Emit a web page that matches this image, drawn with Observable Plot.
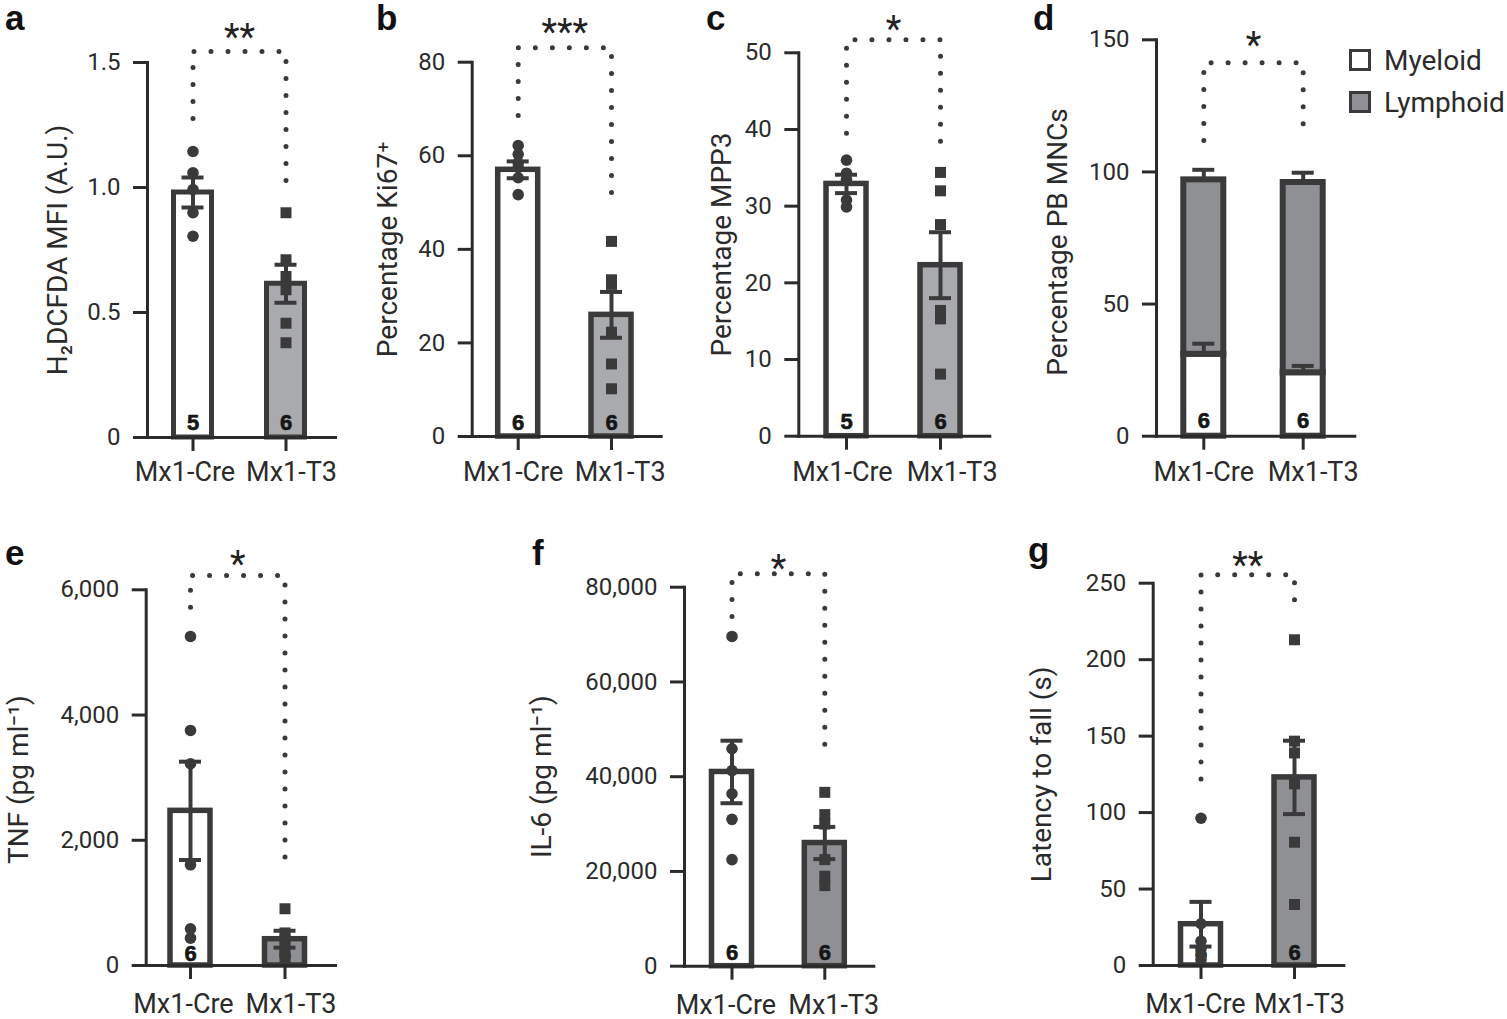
<!DOCTYPE html>
<html><head><meta charset="utf-8">
<script src="https://cdn.jsdelivr.net/npm/d3@7"></script>
<script src="https://cdn.jsdelivr.net/npm/@observablehq/plot@0.6"></script>
<style>
html,body{margin:0;padding:0;background:#fff;}
body{width:1507px;height:1019px;position:relative;overflow:hidden;font-family:Roboto,"Liberation Sans",sans-serif;}
.panel{position:absolute;}
.panel svg{overflow:visible;}
.letter{position:absolute;font-family:"Liberation Sans",Arial,sans-serif;font-weight:700;font-size:35px;line-height:35px;color:#111;}
.legend{position:absolute;left:1349px;top:39px;font-size:28px;color:#2b2b2b;font-family:Roboto,sans-serif;font-weight:400;}
.legend .item{display:flex;align-items:center;height:42px;}
.legend .sw{width:16px;height:16px;border:3px solid #3a3a3a;margin-right:13px;}
</style></head><body>
<script>
// ---------- DATA ----------
const groups = ["Mx1-Cre", "Mx1-T3"];

// a: H2DCFDA MFI (A.U.)
const aCre = [1.144, 1.059, 0.992, 0.899, 0.805];
const aT3 = [0.899, 0.711, 0.644, 0.591, 0.457, 0.379];
const aMean = [0.98, 0.615];
const aSem = [0.06, 0.076];
const aN = [5, 6];
const aTicks = [0, 0.5, 1.0, 1.5];
const aBracket = [1.276, 1.544, 0.976];

// b: Percentage Ki67+
const bCre = [62.2, 60.3, 58.5, 57.5, 55.3, 51.7];
const bT3 = [41.7, 33.5, 32.5, 22.3, 15.5, 10.2];
const bMean = [57.0, 26.0];
const bSem = [1.8, 4.9];
const bN = [6, 6];
const bTicks = [0, 20, 40, 60, 80];
const bBracket = [68.6, 83.1, 48.9];

// c: Percentage MPP3
const cCre = [36.0, 34.3, 33.5, 30.8, 29.9];
const cT3 = [34.4, 32.0, 27.6, 16.4, 15.3, 8.1];
const cMean = [32.9, 22.3];
const cSem = [1.2, 4.3];
const cN = [5, 6];
const cTicks = [0, 10, 20, 30, 40, 50];
const cBracket = [39.5, 51.7, 37.9];

// d: Percentage PB MNCs (stacked)
const dTypes = ["Myeloid", "Lymphoid"];
const dMyeloid = [31, 24];
const dMyeloidSem = [4.0, 2.6];
const dLymphoid = [66, 72];
const dTotalSem = [3.8, 3.7];
const dN = [6, 6];
const dTicks = [0, 50, 100, 150];
const dBracket = [111.9, 141.3, 113.4];

// e: TNF (pg ml-1)
const eCre = [5255, 3754, 3222, 1608, 586, 436];
const eT3 = [906, 520, 420, 330, 200, 90];
const eMean = [2470, 420];
const eSem = [785, 135];
const eN = [6, 6];
const eTicks = [0, 2000, 4000, 6000];
const eBracket = [5720, 6230, 1720];

// f: IL-6 (pg ml-1)
const fCre = [69600, 45900, 41300, 36400, 31000, 22500];
const fT3 = [36700, 32000, 30000, 22500, 19000, 17000];
const fMean = [41000, 26000];
const fSem = [6600, 3400];
const fN = [6, 6];
const fTicks = [0, 20000, 40000, 60000, 80000];
const fBracket = [73820, 82830, 43270];

// g: Latency to fall (s)
const gCre = [96.3, 27.3, 15.9, 10.9, 6.5, 3.7];
const gT3 = [213, 146.7, 139, 118.8, 80.6, 39.9];
const gMean = [27, 123];
const gSem = [14.6, 24];
const gN = [6, 6];
const gTicks = [0, 50, 100, 150, 200, 250];
const gBracket = [122, 255.6, 230.4];

// ---------- STYLE ----------
const INK = "#3a3a3a";
const AXIS = "#2b2b2b";
const GRAY_LIGHT = "#a8aaad";
const GRAY_DARK = "#8e9093";
const FONT = "Roboto, 'Liberation Sans', sans-serif";

function dec1(d){ return d === 0 ? "0" : d.toFixed(1); }
const comma = d3.format(",");
const plain = d => String(d);

function makePanel(o) {
  const {L, T, W, H, axisX, xRight, y0, yTop, c1, c2, bw} = o.layout;
  const step = c2 - c1;
  const p = 1 - bw / step;
  const ins = (bw - 22) / 2;
  const summary = groups.map((g, i) => ({g, mean: o.mean ? o.mean[i] : null, sem: o.sem ? o.sem[i] : null, n: o.n[i]}));
  const br = [
    {g: groups[0], y: o.bracket[0]}, {g: groups[0], y: o.bracket[1]},
    {g: groups[1], y: o.bracket[1]}, {g: groups[1], y: o.bracket[2]}
  ];
  const marks = [];
  if (o.stacked) {
    const rows = [];
    groups.forEach((g, i) => {
      rows.push({g, type: dTypes[0], v: o.stacked.my[i]});
      rows.push({g, type: dTypes[1], v: o.stacked.ly[i]});
    });
    marks.push(Plot.barY(rows, {x: "g", y: "v", fill: "type", stroke: INK, strokeWidth: o.sw}));
    const errs = groups.map((g, i) => ({g, a: o.stacked.my[i], b: o.stacked.my[i] + o.stacked.mySem[i]}))
      .concat(groups.map((g, i) => ({g, a: o.stacked.my[i] + o.stacked.ly[i], b: o.stacked.my[i] + o.stacked.ly[i] + o.stacked.totSem[i]})));
    marks.push(Plot.ruleX(errs, {x: "g", y1: "a", y2: "b", stroke: INK, strokeWidth: 4}));
    marks.push(Plot.tickY(errs, {x: "g", y: "b", stroke: INK, strokeWidth: 4, insetLeft: ins, insetRight: ins}));
  } else {
    marks.push(Plot.barY(summary, {x: "g", y: "mean", fill: "g", stroke: INK, strokeWidth: o.sw}));
  }
  marks.push(Plot.text(summary, {x: "g", y: () => 0, text: d => String(d.n), dy: o.nDy, fontWeight: 700, fontFamily: "'Liberation Sans', Arial, sans-serif", fontSize: 22, fill: "#151515", stroke: "#151515", strokeWidth: 0.6, lineAnchor: "middle"}));
  if (!o.stacked) {
    marks.push(Plot.ruleX(summary, {x: "g", y1: d => d.mean - d.sem, y2: d => d.mean + d.sem, stroke: INK, strokeWidth: 4}));
    marks.push(Plot.tickY(summary, {x: "g", y: d => d.mean + d.sem, stroke: INK, strokeWidth: 4, insetLeft: ins, insetRight: ins}));
    marks.push(Plot.tickY(summary, {x: "g", y: d => d.mean - d.sem, stroke: INK, strokeWidth: 4, insetLeft: ins, insetRight: ins}));
    marks.push(Plot.dot(o.cre, {x: () => groups[0], y: d => d, r: 5.8, fill: INK, symbol: "circle"}));
    marks.push(Plot.dot(o.t3, {x: () => groups[1], y: d => d, r: 6.2, fill: INK, symbol: "square"}));
  }
  marks.push(Plot.line(br, {x: "g", y: "y", stroke: INK, strokeWidth: 5, strokeDasharray: "0 17", strokeLinecap: "round"}));
  marks.push(Plot.text([o.star], {x: () => groups[0], y: () => o.bracket[1], text: d => d, dx: step / 2, dy: o.starDy, fontSize: 36, fill: "#222", lineAnchor: "middle"}));
  marks.push(Plot.text([o.ylabel], {frameAnchor: "left", rotate: -90, dx: o.labelDx, dy: o.labelDy || 0, text: d => d, fontSize: 28, fill: "#2b2b2b", textAnchor: "middle", lineAnchor: "middle"}));
  marks.push(Plot.axisY({ticks: o.ticks, tickSize: 14, tickPadding: 13, tickFormat: o.fmt, fontSize: 24, strokeWidth: 3, label: null}));
  marks.push(Plot.axisX({tickSize: 14, tickFormat: () => "", strokeWidth: 3, label: null}));
  groups.forEach((g, i) => {
    marks.push(Plot.text([g], {x: d => d, y: () => 0, text: d => d, dx: o.xdx[i], dy: o.xdy, fontSize: 27, fill: "#2b2b2b", lineAnchor: "middle"}));
  });
  marks.push(Plot.frame({anchor: "left", strokeWidth: 3}));
  marks.push(Plot.frame({anchor: "bottom", strokeWidth: 3}));

  const chart = Plot.plot({
    width: W, height: H,
    marginLeft: axisX - L, marginRight: L + W - xRight,
    marginTop: yTop - T, marginBottom: T + H - y0,
    style: {fontFamily: FONT, fontWeight: 400, color: AXIS, background: "transparent", overflow: "visible"},
    x: {type: "band", domain: groups, range: [c1 - step / 2 - L, c2 + step / 2 - L], paddingInner: p, paddingOuter: p / 2, round: false},
    y: {domain: [0, o.ymax]},
    color: o.stacked ? {domain: dTypes, range: ["#ffffff", GRAY_DARK]} : {domain: groups, range: ["#ffffff", o.gray]},
    marks
  });
  const div = document.createElement("div");
  div.className = "panel";
  div.style.left = L + "px";
  div.style.top = T + "px";
  div.appendChild(chart);
  document.body.appendChild(div);
}

function letter(t, x, y) {
  const d = document.createElement("div");
  d.className = "letter";
  d.textContent = t;
  d.style.left = x + "px";
  d.style.top = (y - 30) + "px";
  document.body.appendChild(d);
}

makePanel({layout: {L: 0, T: 0, W: 350, H: 510, axisX: 147, xRight: 335, y0: 437, yTop: 62, c1: 192.5, c2: 285.5, bw: 38},
  cre: aCre, t3: aT3, mean: aMean, sem: aSem, n: aN, ticks: aTicks, fmt: dec1, ymax: 1.5, bracket: aBracket,
  star: "**", starDy: -14, ylabel: "H₂DCFDA MFI (A.U.)", labelDx: -89, nDy: -15, sw: 5, gray: GRAY_LIGHT,
  xdx: [-8, 5.5], xdy: 35});

makePanel({layout: {L: 365, T: 0, W: 310, H: 510, axisX: 471.7, xRight: 660.7, y0: 436, yTop: 61.7, c1: 517.7, c2: 611, bw: 40},
  cre: bCre, t3: bT3, mean: bMean, sem: bSem, n: bN, ticks: bTicks, fmt: plain, ymax: 80, bracket: bBracket,
  star: "***", starDy: -15, ylabel: "Percentage Ki67⁺", labelDx: -84, nDy: -14, sw: 5.5, gray: GRAY_LIGHT,
  xdx: [-5, 8.7], xdy: 36});

makePanel({layout: {L: 690, T: 0, W: 320, H: 510, axisX: 798.3, xRight: 989.3, y0: 435.7, yTop: 52.3, c1: 846, c2: 940, bw: 40},
  cre: cCre, t3: cT3, mean: cMean, sem: cSem, n: cN, ticks: cTicks, fmt: plain, ymax: 50, bracket: cBracket,
  star: "*", starDy: -10, ylabel: "Percentage MPP3", labelDx: -77, nDy: -14, sw: 5.5, gray: GRAY_LIGHT,
  xdx: [-4, 11.7], xdy: 36});

makePanel({layout: {L: 1020, T: 0, W: 340, H: 510, axisX: 1156, xRight: 1354.3, y0: 435.7, yTop: 39.3, c1: 1203.3, c2: 1302.7, bw: 40},
  stacked: {my: dMyeloid, ly: dLymphoid, mySem: dMyeloidSem, totSem: dTotalSem},
  n: dN, ticks: dTicks, fmt: plain, ymax: 150, bracket: dBracket,
  star: "*", starDy: -17, ylabel: "Percentage PB MNCs", labelDx: -98, labelDy: 4, nDy: -15, sw: 6,
  xdx: [0, 10], xdy: 36});

makePanel({layout: {L: 0, T: 520, W: 350, H: 499, axisX: 145.7, xRight: 335, y0: 965, yTop: 589.3, c1: 190, c2: 284.5, bw: 40},
  cre: eCre, t3: eT3, mean: eMean, sem: eSem, n: eN, ticks: eTicks, fmt: comma, ymax: 6000, bracket: eBracket,
  star: "*", starDy: -11, ylabel: "TNF (pg ml⁻¹)", labelDx: -127, labelDy: 2, nDy: -12, sw: 5.5, gray: GRAY_DARK,
  xdx: [-7, 6], xdy: 39});

makePanel({layout: {L: 520, T: 520, W: 360, H: 499, axisX: 684, xRight: 873.3, y0: 965.7, yTop: 586.7, c1: 731.5, c2: 824.3, bw: 40},
  cre: fCre, t3: fT3, mean: fMean, sem: fSem, n: fN, ticks: fTicks, fmt: comma, ymax: 80000, bracket: fBracket,
  star: "*", starDy: -5, ylabel: "IL-6 (pg ml⁻¹)", labelDx: -142, nDy: -13, sw: 5.5, gray: GRAY_DARK,
  xdx: [-6, 9], xdy: 39});

makePanel({layout: {L: 1010, T: 520, W: 350, H: 499, axisX: 1152.7, xRight: 1343.3, y0: 965, yTop: 582.7, c1: 1200.5, c2: 1294, bw: 40},
  cre: gCre, t3: gT3, mean: gMean, sem: gSem, n: gN, ticks: gTicks, fmt: plain, ymax: 250, bracket: gBracket,
  star: "**", starDy: -9, ylabel: "Latency to fall (s)", labelDx: -111, nDy: -13, sw: 5.5, gray: GRAY_DARK,
  xdx: [-5.5, 5], xdy: 39});

letter("a", 5, 30);
letter("b", 376, 30);
letter("c", 706, 30);
letter("d", 1033, 30);
letter("e", 5, 565);
letter("f", 532, 565);
letter("g", 1028, 562);

const lg = document.createElement("div");
lg.className = "legend";
lg.innerHTML = dTypes.map((t, i) => `<div class="item"><div class="sw" style="background:${i ? GRAY_DARK : '#fff'}"></div><span>${t}</span></div>`).join("");
document.body.appendChild(lg);
</script>
</body></html>
